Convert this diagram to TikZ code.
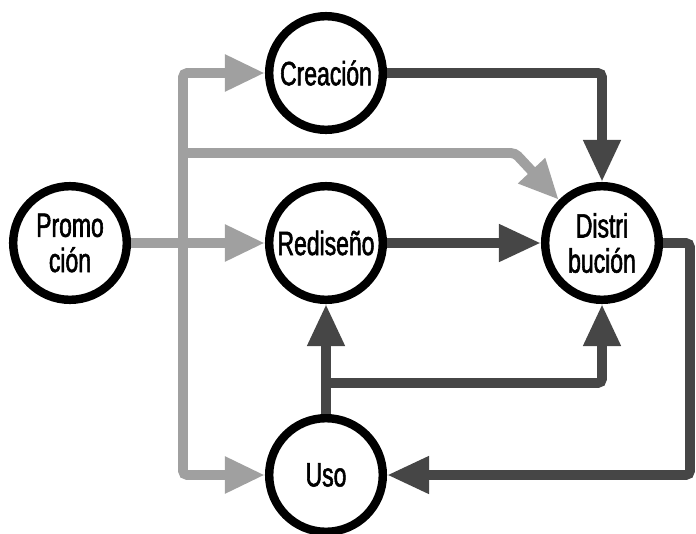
\documentclass[tikz,border=0pt]{standalone}
\usepackage{fontspec}
\setmainfont[FakeStretch=0.68,FakeBold=1.6]{Liberation Sans}
\usepackage{xcolor}
\usepackage{tikz}
\usetikzlibrary{arrows.meta}
\definecolor{ltgray}{HTML}{A0A0A0}
\definecolor{dkgray}{HTML}{464646}
\newcommand{\stagefont}{\fontsize{24}{25}\selectfont}
\tikzset{
  stage/.style={circle,draw=black,line width=6pt,fill=white,minimum size=2.84cm,inner sep=0pt,align=center,font=\stagefont},
  lt/.style={draw=ltgray,line width=7pt,rounded corners=3pt,-{Triangle[length=1cm,width=0.86cm]}},
  dk/.style={draw=dkgray,line width=7pt,rounded corners=3pt,-{Triangle[length=1.05cm,width=0.88cm]}}
}

\begin{document}
\begin{tikzpicture}[x=0.025cm,y=-0.025cm]
\useasboundingbox (0,0) rectangle (696,533);
\node[stage] (prom) at (70,243) {Promo\\ción};
\node[stage] (crea) at (326,73) {Creación};
\node[stage] (redi) at (326,243) {Rediseño};
\node[stage] (dist) at (602,243) {Distri\\bución};
\node[stage] (uso) at (326,475) {Uso};
\coordinate (j) at (183,243);
\coordinate (k) at (183,153);
\coordinate (kk) at (515,153);
\coordinate (br) at (326,383);
\coordinate (rt) at (690,243);
% light paths
\draw[lt] (prom) -- (redi);
\draw[lt] (j) |- (crea);
\draw[lt] (j) |- (uso);
\draw[lt] (k) -- (kk) -- (dist.135);
% dark paths
\draw[dk] (crea) -| (dist);
\draw[dk] (redi) -- (dist);
\draw[dk] (uso) -- (redi);
\draw[dk] (br) -| (dist);
\draw[dk] (dist) -- (rt) |- (uso);
\end{tikzpicture}
\end{document}
